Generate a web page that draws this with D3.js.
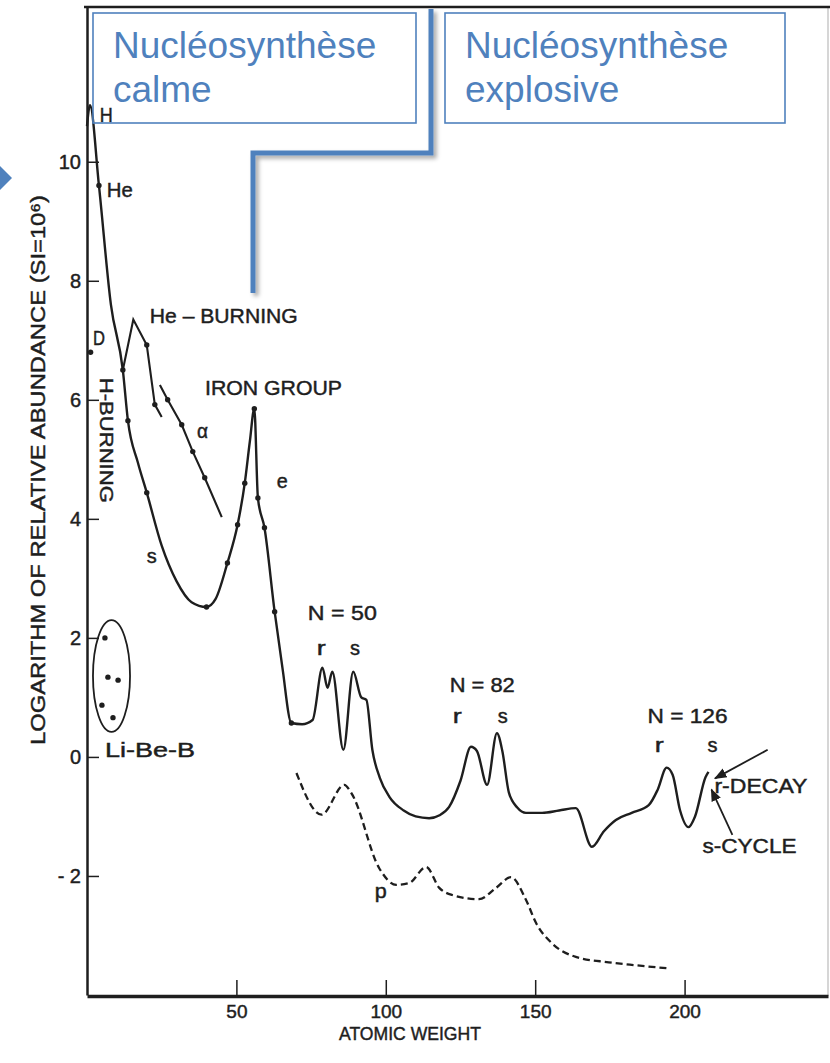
<!DOCTYPE html>
<html>
<head>
<meta charset="utf-8">
<script src="https://cdn.jsdelivr.net/npm/d3@7"></script>
<style>
  body { margin: 0; background: #fff; }
  svg { display: block; }
  .scan { font-family: "Liberation Sans", Arial, sans-serif; fill: #1e1e1e; }
  text.scan, .scan text { stroke: #1e1e1e; stroke-width: 0.45px; }
</style>
</head>
<body>
<svg id="chart" width="830" height="1063"></svg>
<script>
// ---- data ----
var xTicks = [50, 100, 150, 200];
var yTicks = [-2, 0, 2, 4, 6, 8, 10];

// [atomic weight, log abundance]
var mainCurve = [
    [0, 10.6], [1, 10.95], [4, 9.6], [8, 7.6], [12, 6.5], [13.7, 5.65], [17, 4.95], [20, 4.44],
    [25, 3.55], [30, 2.95], [35, 2.6], [40, 2.52], [43, 2.65], [47, 3.26], [50.4, 3.9], [52.8, 4.6],
    [54.5, 5.3], [56, 5.85], [57.2, 4.35], [59.4, 3.85], [62.8, 2.44], [65.4, 1.5], [68.4, 0.57],
    [72, 0.55], [75.5, 0.62], [78.8, 1.5], [80.5, 1.16], [82.1, 1.43], [85.8, 0.12], [89.1, 1.43],
    [91.8, 1.0], [93.5, 0.96], [95.5, 0.12], [98, -0.35], [101.2, -0.67], [106, -0.9], [110, -1.0],
    [114.5, -1.03], [118, -0.98], [121.2, -0.84], [125, -0.4], [128.5, 0.17], [130.5, 0.1],
    [133.9, -0.47], [137.2, 0.4], [139, 0.1], [141.2, -0.6], [144, -0.85], [146.9, -0.94],
    [152.3, -0.94], [158, -0.9], [163.6, -0.86], [169, -1.51], [173, -1.25], [177, -1.06],
    [182.3, -0.94], [188, -0.81], [191, -0.55], [194, -0.18], [196, -0.3], [198.5, -0.9],
    [201.3, -1.18], [203.5, -1.0], [207, -0.34], [208, -0.25]
];
var mainDots = [
    [4, 9.6], [12, 6.5], [13.7, 5.65], [20, 4.44], [40, 2.52], [47, 3.26], [50.4, 3.9],
    [52.8, 4.6], [56, 5.85], [57.2, 4.35], [59.4, 3.85], [62.8, 2.44], [68.4, 0.57]
];
var heBurning = [[12, 6.5], [15.5, 7.35], [20, 6.92], [22.7, 5.92], [25, 5.71]];
var heDots = [[20, 6.92], [22.7, 5.92]];
var alphaLine = [[24.4, 6.25], [27, 6.0], [31.7, 5.58], [35.4, 5.13], [39.4, 4.69], [45.1, 4.03]];
var alphaDots = [[27, 6.0], [31.7, 5.58], [35.4, 5.13], [39.4, 4.69]];
var pCurve = [
    [70.1, -0.27], [78.5, -0.97], [86.1, -0.47], [88.5, -0.61], [97.8, -1.87], [103.5, -2.15],
    [107.8, -2.12], [113.5, -1.85], [117.9, -2.2], [122.2, -2.32], [131.2, -2.39], [136.9, -2.2],
    [141.9, -2.02], [146.9, -2.4], [150.3, -2.79], [155.6, -3.13], [163.6, -3.36], [174.6, -3.45],
    [183.6, -3.5], [194, -3.55]
];
var liBeB = [[6, 2.0], [7, 1.34], [10.4, 1.29], [5, 0.87], [8.7, 0.66]];
var liBeBRing = { a0: 2, a1: 14.4, v0: 0.42, v1: 2.3 };
var deuterium = [[1.2, 6.8]];

// labels: text, atomic weight, log abundance (baseline-left), width
var labels = [
    { t: "H", a: 4.3, v: 10.67, w: 13 },
    { t: "He", a: 6.6, v: 9.41, w: 26 },
    { t: "D", a: 2, v: 6.92, w: 12 },
    { t: "He – BURNING", a: 21, v: 7.29, w: 148 },
    { t: "IRON GROUP", a: 39.5, v: 6.08, w: 137 },
    { t: "α", a: 36.8, v: 5.36, w: 11 },
    { t: "e", a: 63.5, v: 4.52, w: 11 },
    { t: "s", a: 20, v: 3.26, w: 10 },
    { t: "Li-Be-B", a: 6, v: 0, w: 90 },
    { t: "N = 50", a: 73.9, v: 2.3, w: 69 },
    { t: "r", a: 76.9, v: 1.71, w: 9 },
    { t: "s", a: 88, v: 1.71, w: 10 },
    { t: "N = 82", a: 121.4, v: 1.09, w: 65 },
    { t: "r", a: 122.4, v: 0.57, w: 9 },
    { t: "s", a: 137.5, v: 0.57, w: 10 },
    { t: "N = 126", a: 187.6, v: 0.57, w: 80 },
    { t: "r", a: 190, v: 0.08, w: 9 },
    { t: "s", a: 207.7, v: 0.08, w: 10 },
    { t: "r-DECAY", a: 210, v: -0.6, w: 93 },
    { t: "s-CYCLE", a: 206, v: -1.61, w: 94 },
    { t: "p", a: 96.3, v: -2.37, w: 12 }
];
var arrows = [
    { from: [227.8, 0.12], to: [210.2, -0.36] },
    { from: [216, -1.31], to: [209, -0.55] }
];

var svg = d3.select("#chart");
var blue = "#4f81bd", ink = "#1e1e1e";

var x = d3.scaleLinear().domain([0, 248]).range([87, 828]);
var y = d3.scaleLinear().domain([-4, 12.6]).range([995, 7]);

var defs = svg.append("defs");
defs.append("marker").attr("id", "arrow").attr("viewBox", "0 0 10 10")
    .attr("refX", 9).attr("refY", 5).attr("markerWidth", 7).attr("markerHeight", 7)
    .attr("orient", "auto")
    .append("path").attr("d", "M0,1L10,5L0,9z").attr("fill", ink);
var shadow = defs.append("filter").attr("id", "shadow")
    .attr("x", "-50%").attr("y", "-50%").attr("width", "200%").attr("height", "200%");
shadow.append("feDropShadow").attr("dx", 3).attr("dy", 3).attr("stdDeviation", 2)
    .attr("flood-color", "#000").attr("flood-opacity", 0.35);

// ---- frame ----
svg.append("line").attr("x1", 828).attr("x2", 828).attr("y1", 7).attr("y2", 996)
    .attr("stroke", "#bbb").attr("stroke-width", 1.2);
svg.append("line").attr("x1", x(0) - 3).attr("x2", 830).attr("y1", y(12.6)).attr("y2", y(12.6))
    .attr("stroke", ink).attr("stroke-width", 2.5);

// ---- axes ----
var yAxis = svg.append("g").attr("class", "scan")
    .attr("transform", `translate(${x(0)},0)`)
    .call(d3.axisLeft(y).tickValues(yTicks).tickSize(-12).tickSizeOuter(0).tickPadding(6)
        .tickFormat(d => d < 0 ? "- " + Math.abs(d) : d));
yAxis.select(".domain").attr("stroke", ink).attr("stroke-width", 2.5);
yAxis.selectAll(".tick line").attr("stroke", ink).attr("stroke-width", 1.5);
yAxis.selectAll(".tick text").attr("fill", ink).style("font-size", "20px")
    .style("font-family", "Liberation Sans, Arial, sans-serif");

var xAxis = svg.append("g").attr("class", "scan")
    .attr("transform", `translate(0,${y(-4) + 1})`)
    .call(d3.axisBottom(x).tickValues(xTicks).tickSize(-16).tickSizeOuter(0).tickPadding(9));
xAxis.select(".domain").attr("stroke", ink).attr("stroke-width", 3.5);
xAxis.selectAll(".tick line").attr("stroke", ink).attr("stroke-width", 1.5);
xAxis.selectAll(".tick text").attr("fill", ink).style("font-size", "19px")
    .style("font-family", "Liberation Sans, Arial, sans-serif");

svg.append("text").attr("class", "scan")
    .attr("x", 410).attr("y", 1040).attr("text-anchor", "middle")
    .attr("textLength", 142).attr("lengthAdjust", "spacingAndGlyphs")
    .style("font-size", "19px").text("ATOMIC  WEIGHT");

svg.append("text").attr("class", "scan")
    .attr("transform", "translate(45,470) rotate(-90)").attr("text-anchor", "middle")
    .attr("textLength", 550).attr("lengthAdjust", "spacingAndGlyphs")
    .style("font-size", "21px").text("LOGARITHM OF RELATIVE  ABUNDANCE  (SI=10⁶)");

// ---- curves ----
var line = d3.line().x(d => x(d[0])).y(d => y(d[1]));
var smooth = d3.line().x(d => x(d[0])).y(d => y(d[1])).curve(d3.curveMonotoneX);

svg.append("path").datum(mainCurve).attr("d", smooth)
    .attr("fill", "none").attr("stroke", ink).attr("stroke-width", 2.4).attr("stroke-linejoin", "round");
svg.append("path").datum(heBurning).attr("d", line)
    .attr("fill", "none").attr("stroke", ink).attr("stroke-width", 2.1);
svg.append("path").datum(alphaLine).attr("d", line)
    .attr("fill", "none").attr("stroke", ink).attr("stroke-width", 2.1);
svg.append("path").datum(pCurve).attr("d", smooth)
    .attr("fill", "none").attr("stroke", ink).attr("stroke-width", 2.3)
    .attr("stroke-dasharray", "7,4");

svg.append("g").selectAll("circle")
    .data(mainDots.concat(heDots, alphaDots, liBeB, deuterium))
    .join("circle")
    .attr("cx", d => x(d[0])).attr("cy", d => y(d[1])).attr("r", 2.7).attr("fill", ink);

svg.append("ellipse")
    .attr("cx", (x(liBeBRing.a0) + x(liBeBRing.a1)) / 2)
    .attr("cy", (y(liBeBRing.v0) + y(liBeBRing.v1)) / 2)
    .attr("rx", (x(liBeBRing.a1) - x(liBeBRing.a0)) / 2)
    .attr("ry", (y(liBeBRing.v0) - y(liBeBRing.v1)) / 2)
    .attr("fill", "none").attr("stroke", ink).attr("stroke-width", 1.8);

// ---- annotations ----
svg.append("g").selectAll("text").data(labels).join("text")
    .attr("class", "scan")
    .attr("x", d => x(d.a)).attr("y", d => y(d.v))
    .attr("textLength", d => d.w).attr("lengthAdjust", "spacingAndGlyphs")
    .style("font-size", "20px")
    .text(d => d.t);

svg.append("text").attr("class", "scan")
    .attr("transform", `translate(${x(4.5)},${y(6.37)}) rotate(90)`)
    .attr("textLength", 125).attr("lengthAdjust", "spacingAndGlyphs")
    .style("font-size", "19px").text("H-BURNING");

svg.append("g").selectAll("line").data(arrows).join("line")
    .attr("x1", d => x(d.from[0])).attr("y1", d => y(d.from[1]))
    .attr("x2", d => x(d.to[0])).attr("y2", d => y(d.to[1]))
    .attr("stroke", ink).attr("stroke-width", 1.8).attr("marker-end", "url(#arrow)");

// ---- slide overlay (blue boxes and connector) ----
svg.append("path").attr("d", "M431,9V153H253V293")
    .attr("fill", "none").attr("stroke", blue).attr("stroke-width", 5)
    .attr("filter", "url(#shadow)");
svg.append("path").attr("d", "M0,166L12,178L0,190z").attr("fill", blue);

var boxes = [
    { x: 93, w: 323, lines: ["Nucléosynthèse", "calme"] },
    { x: 445, w: 340, lines: ["Nucléosynthèse", "explosive"] }
];
boxes.forEach(function (b) {
    svg.append("rect").attr("x", b.x).attr("y", 13).attr("width", b.w).attr("height", 110)
        .attr("fill", "none").attr("stroke", blue).attr("stroke-width", 1.6);
    svg.append("text").attr("x", b.x + 20).attr("y", 58)
        .style("font-family", "Liberation Sans, Arial, sans-serif").style("font-size", "37px")
        .attr("fill", blue)
        .selectAll("tspan").data(b.lines).join("tspan")
        .attr("x", b.x + 20).attr("dy", (d, i) => i ? 44 : 0).text(d => d);
});
</script>
</body>
</html>
